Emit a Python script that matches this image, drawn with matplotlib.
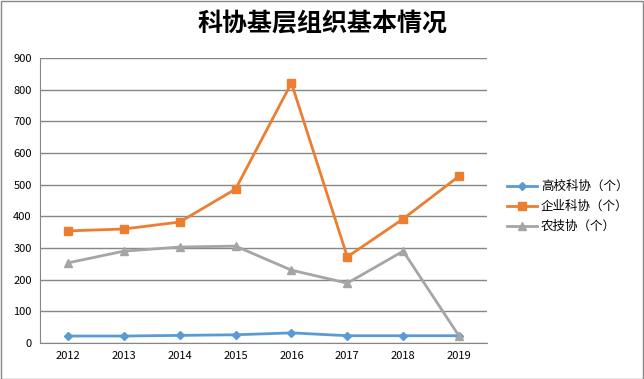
import numpy as np
import matplotlib.pyplot as plt

plt.rcParams['font.family'] = ['Noto Sans CJK SC', 'DejaVu Sans']

years = ['2012', '2013', '2014', '2015', '2016', '2017', '2018', '2019']
gaoxiao = [22, 22, 24, 26, 32, 23, 23, 23]
qiye = [354, 360, 382, 486, 821, 272, 392, 527]
nongji = [253, 290, 303, 306, 230, 189, 290, 22]

fig = plt.figure(figsize=(6.44, 3.79), dpi=100)
ax = fig.add_axes([40 / 644, 36 / 379, 447 / 644, 285 / 379])

x = np.arange(len(years))
ax.plot(x, gaoxiao, color='#5b9bd5', marker='D', markersize=4.5, linewidth=2, label='高校科协（个）')
ax.plot(x, qiye, color='#ed7d31', marker='s', markersize=5.5, linewidth=2, label='企业科协（个）')
ax.plot(x, nongji, color='#a5a5a5', marker='^', markersize=6, linewidth=2, label='农技协（个）')

ax.set_xlim(-0.5, len(years) - 0.5)
ax.set_ylim(0, 900)
ax.set_yticks(range(0, 901, 100))
ax.set_xticks(x)
ax.set_xticklabels(years)
ax.tick_params(length=0, labelsize=8, pad=6)
ax.grid(axis='y', color='#868686', linewidth=1)
ax.set_axisbelow(True)
for s in ['top', 'right']:
    ax.spines[s].set_visible(False)
ax.spines['left'].set_color('#868686')
ax.spines['bottom'].set_color('#868686')

fig.text(0.5, 0.935, '科协基层组织基本情况', ha='center', va='center', fontsize=18, fontweight='bold')

fig.legend(loc='center left', bbox_to_anchor=(496 / 644, 0.455), frameon=False, fontsize=9,
           handlelength=2.4, labelspacing=0.55, handletextpad=0.3)

border = plt.Rectangle((0.001, 0.001), 0.997, 0.996, transform=fig.transFigure, fill=False,
                       edgecolor='#868686', linewidth=1)
fig.patches.append(border)

fig.savefig('out.png', dpi=100)
